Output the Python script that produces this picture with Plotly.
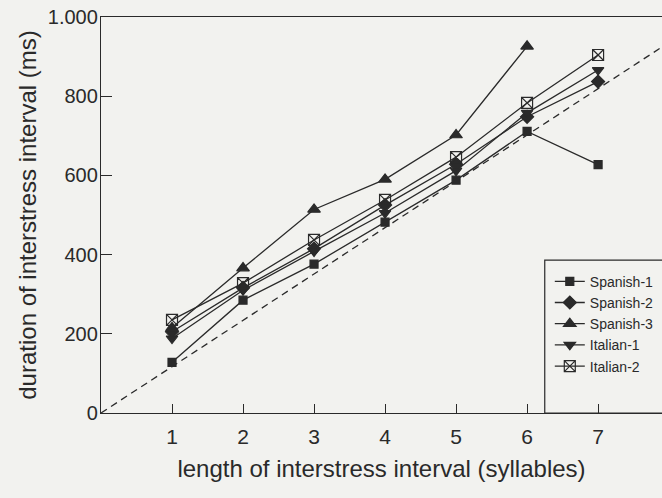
import plotly.graph_objects as go

syllables = [1, 2, 3, 4, 5, 6, 7]
spanish_1 = [128, 285, 376, 482, 588, 711, 627]
spanish_2 = [205, 316, 415, 525, 628, 748, 837]
spanish_3 = [215, 366, 514, 590, 702, 926]
italian_1 = [188, 310, 408, 505, 612, 758, 866]
italian_2 = [235, 328, 437, 538, 646, 783, 904]
ref_x = [0, 8]
ref_slope = 117
y_tickvals = [0, 200, 400, 600, 800, 1000]
y_ticktext = ["0", "200", "400", "600", "800", "1.000"]

INK = "#2a2a2a"
BG = "#f2f2ef"
FONT = "Liberation Sans, Arial, sans-serif"

series = [
    ("Spanish-1", spanish_1, "square", 8),
    ("Spanish-2", spanish_2, "diamond", 10),
    ("Spanish-3", spanish_3, "triangle-up", 11),
    ("Italian-1", italian_1, "triangle-down", 10),
    ("Italian-2", italian_2, "square-x-open", 11),
]

fig = go.Figure()
fig.add_trace(go.Scatter(
    x=ref_x, y=[ref_slope * v for v in ref_x], mode="lines",
    line=dict(color=INK, width=1.3, dash="7px,5px"), showlegend=False, hoverinfo="skip"))

for name, vals, sym, size in series:
    fig.add_trace(go.Scatter(
        x=syllables[:len(vals)], y=vals, name=name, mode="lines+markers",
        line=dict(color=INK, width=1.3),
        marker=dict(symbol=sym, size=size, color=INK,
                    line=dict(color=INK, width=1.2))))

fig.add_shape(type="rect", xref="paper", yref="paper",
              x0=0.791, x1=1.2, y0=0.0, y1=0.386,
              line=dict(color=INK, width=1.2), fillcolor=BG, layer="below")

fig.update_layout(
    width=662, height=498,
    margin=dict(l=101, r=0, t=17, b=85),
    paper_bgcolor=BG, plot_bgcolor=BG,
    font=dict(family=FONT, color=INK),
    showlegend=True,
    legend=dict(x=0.80, y=0.372, xanchor="left", yanchor="top",
                bgcolor="rgba(0,0,0,0)", borderwidth=0,
                font=dict(size=14, family=FONT, color=INK),
                itemwidth=30, tracegroupgap=0),
    xaxis=dict(range=[0, 7.9], tickvals=syllables, ticks="inside", ticklen=9,
               tickcolor=INK, showgrid=False, zeroline=False,
               showline=True, linecolor=INK, linewidth=1.3, mirror=True,
               tickfont=dict(size=21), ticklabelstandoff=5,
               title=dict(text="length of interstress interval (syllables)",
                          font=dict(size=24), standoff=12)),
    yaxis=dict(range=[0, 1000], tickvals=y_tickvals, ticktext=y_ticktext,
               ticks="inside", ticklen=11, tickcolor=INK, showgrid=False,
               zeroline=False, showline=True, linecolor=INK, linewidth=1.3,
               mirror=False, tickfont=dict(size=20), ticklabelstandoff=-2,
               title=dict(text="duration of interstress interval (ms)",
                          font=dict(size=24), standoff=4)),
)

fig.write_html("out.html")
